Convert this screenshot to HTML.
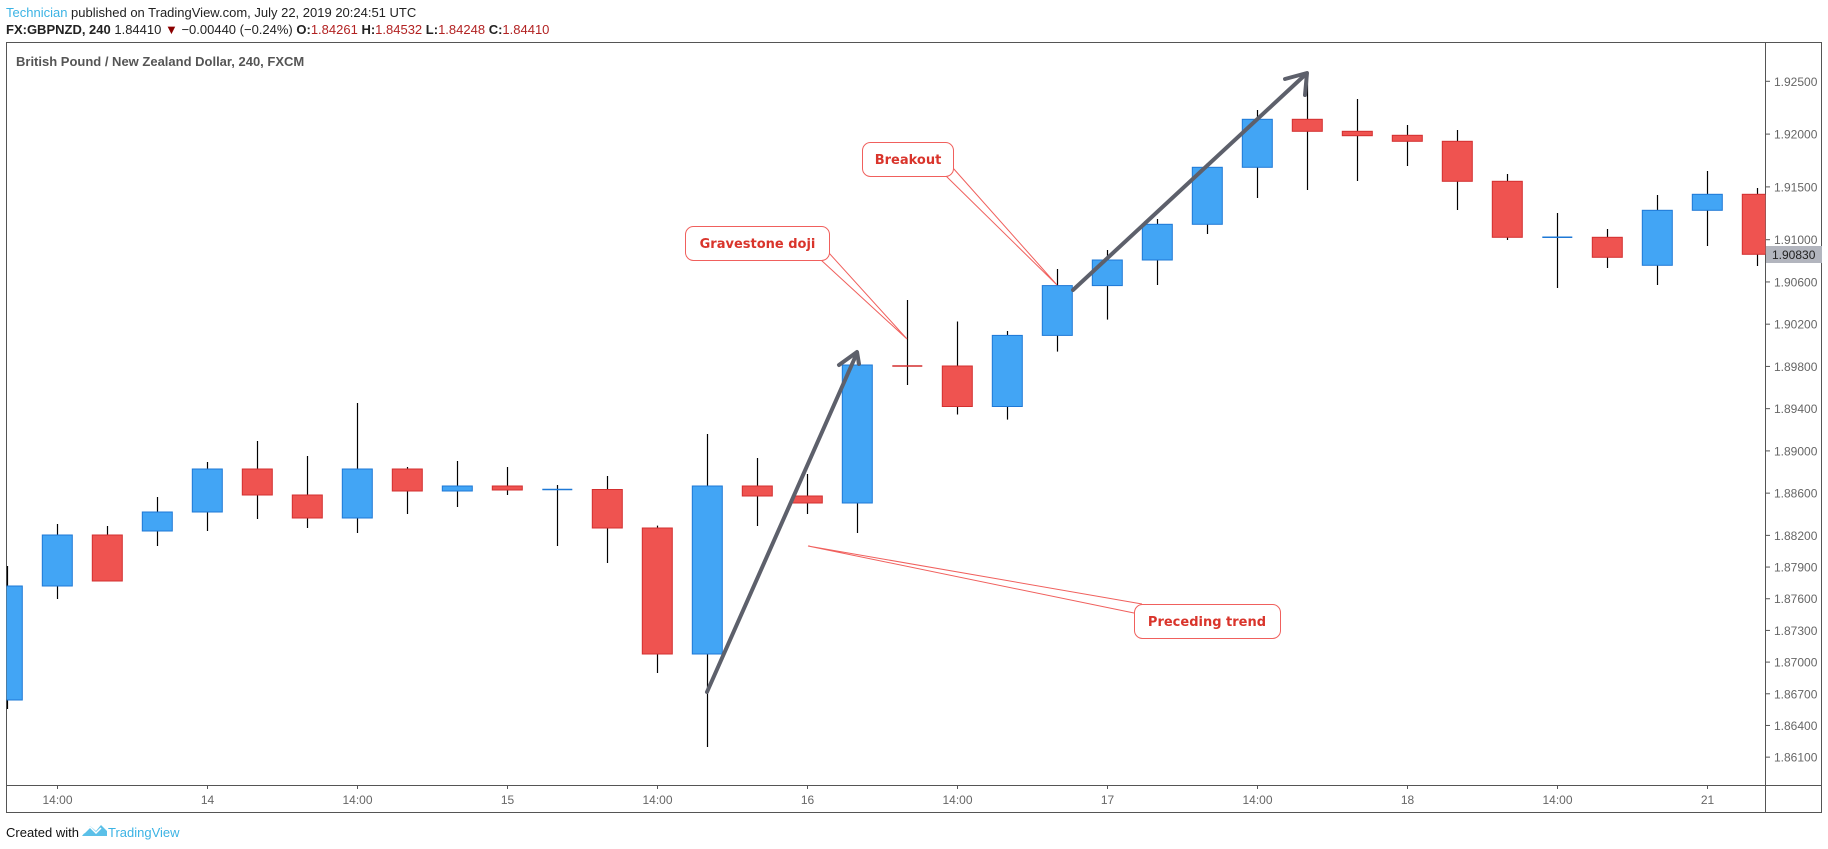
<!DOCTYPE html>
<html><head><meta charset="utf-8">
<style>
html,body{margin:0;padding:0;background:#fff;width:1828px;height:849px;overflow:hidden}
svg{display:block}
.t{font-family:"Liberation Sans",sans-serif}
</style></head>
<body>
<svg id="s" width="1828" height="849" viewBox="0 0 1828 849" xmlns="http://www.w3.org/2000/svg">
<defs><clipPath id="pc"><rect x="6.5" y="42.5" width="1759" height="742"/></clipPath></defs>
<text class="t" x="6" y="17" font-size="13" fill="#3bb3e4">Technician <tspan fill="#222">published on TradingView.com, July 22, 2019 20:24:51 UTC</tspan></text>
<text class="t" x="6" y="34" font-size="13" fill="#222"><tspan font-weight="bold">FX:GBPNZD, 240</tspan> 1.84410 <tspan fill="#8b0000">▼</tspan> −0.00440 (−0.24%) <tspan font-weight="bold">O:</tspan><tspan fill="#b22222">1.84261</tspan> <tspan font-weight="bold">H:</tspan><tspan fill="#b22222">1.84532</tspan> <tspan font-weight="bold">L:</tspan><tspan fill="#b22222">1.84248</tspan> <tspan font-weight="bold">C:</tspan><tspan fill="#b22222">1.84410</tspan></text>
<rect x="6.5" y="42.5" width="1815" height="770" fill="none" stroke="#555" stroke-width="1"/>
<line x1="1765.5" y1="42" x2="1765.5" y2="812" stroke="#555"/>
<line x1="6" y1="785.5" x2="1822" y2="785.5" stroke="#555"/>
<text class="t" x="16" y="66" font-size="13" font-weight="bold" fill="#555">British Pound / New Zealand Dollar, 240, FXCM</text>
<g id="candles" clip-path="url(#pc)"></g>
<g id="axes"></g>
<!-- arrows -->
<g stroke="#5d606b" stroke-width="4" fill="none" stroke-linecap="round" stroke-linejoin="round">
<line x1="707" y1="692" x2="857" y2="353"/>
<polyline points="839,365 857,352 859,364"/>
<line x1="1073" y1="290" x2="1306" y2="74"/>
<polyline points="1285,79 1307,73 1305,95"/>
</g>
<!-- callouts -->
<g stroke="#f0605d" stroke-width="1" fill="none">
<polyline points="821,260 907,339 829,253"/>
<polyline points="946,176 1057,285 953,168"/>
<polyline points="1134,613 808,546 1142,604"/>
</g>
<g stroke="#f0605d" stroke-width="1" fill="#fff">
<rect x="685.5" y="226.5" width="144" height="34" rx="8"/>
<rect x="862.5" y="142.5" width="91" height="34" rx="8"/>
<rect x="1134.5" y="604.5" width="146" height="34" rx="8"/>
</g>
<g font-family="'DejaVu Sans',sans-serif" font-weight="bold" font-size="13" fill="#d9342b" text-anchor="middle">
<text x="757.5" y="248">Gravestone doji</text>
<text x="908" y="164">Breakout</text>
<text x="1207" y="626">Preceding trend</text>
</g>
<rect x="1766" y="246" width="56" height="17" fill="#b2b5be"/>
<text class="t" x="1772" y="259" font-size="12" fill="#222">1.90830</text>
<text class="t" x="6" y="837" font-size="13" fill="#111">Created with</text>
<path d="M82,836 L90,826 L96,831 L101,825 L107,831 L107,836 Z" fill="#5bc0e8"/>
<path d="M84,833 L90,827 L96,833 L101,828" stroke="#fff" stroke-width="1.5" fill="none"/>
<text class="t" x="108" y="837" font-size="13" fill="#3bb3e4">TradingView</text>
</svg>
<script>
var d=[
[566,586,700,709,1],[524,535,586,599,1],[526,535,581,581,0],[497,512,531,546,1],[462,469,512,531,1],
[441,469,495,519,0],[456,495,518,528,0],[403,469,518,533,1],[467,469,491,514,0],[461,486,491,507,1],
[467,486,490,495,0],[485,489.5,489.5,546,1],[476,489.5,528,563,0],[525.6,528,654,673,0],[434,486,654,747,1],
[458,486,496,526,0],[474,496,503,514,0],[360,365,503,533,1],[300,366,366,385,0],[321.5,366,406.5,414.5,0],
[331,335.4,406.5,419.6,1],[269,285.6,335.4,351.6,1],[250,260,285.6,319.6,1],[219,224.3,260,285,1],[163,167.3,224.3,234,1],
[110,119.3,167.3,198,1],[73,119.3,131.3,190,0],[99,131.3,135.7,181,0],[125,135.3,141.3,166,0],[130,141.3,181.3,210,0],
[174,181.3,237.3,240,0],[213,237.3,237.3,288,1],[229,237.3,257.3,268,0],[195,210.3,265.3,285,1],[171,194.3,210.3,246,1],
[188,194.3,254.3,266,0]];
var h='';
d.forEach(function(c,i){var x=7.3+50*i;var xc=Math.round(x)+0.5;
h+='<line x1="'+xc+'" y1="'+c[0]+'" x2="'+xc+'" y2="'+c[3]+'" stroke="#000" stroke-width="1.2"/>';
var f=c[4]?'#42a5f5':'#ef5350',s=c[4]?'#1e78d6':'#d32f2f';
var hh=c[2]-c[1];
if(hh<1.5){h+='<line x1="'+(x-15)+'" y1="'+c[1]+'" x2="'+(x+15)+'" y2="'+c[1]+'" stroke="'+s+'" stroke-width="1.5"/>';}
else h+='<rect x="'+(x-15)+'" y="'+c[1]+'" width="30" height="'+hh+'" fill="'+f+'" stroke="'+s+'" stroke-width="1"/>';});
document.getElementById('candles').innerHTML=h;
var a='';
var ps=['1.92500','1.92000','1.91500','1.91000','1.90600','1.90200','1.89800','1.89400','1.89000','1.88600','1.88200','1.87900','1.87600','1.87300','1.87000','1.86700','1.86400','1.86100'];
ps.forEach(function(p){var y=81.3+(1.925-parseFloat(p))*10560;
a+='<line x1="1766" y1="'+y+'" x2="1770" y2="'+y+'" stroke="#555"/>';
a+='<text x="1774" y="'+(y+4.5)+'" font-size="12" fill="#666" font-family="Liberation Sans,sans-serif">'+p+'</text>';});
var xl=['14:00','14','14:00','15','14:00','16','14:00','17','14:00','18','14:00','21'];
xl.forEach(function(l,k){var x=57.5+150*k;
a+='<line x1="'+x+'" y1="785" x2="'+x+'" y2="789" stroke="#555"/>';
a+='<text x="'+x+'" y="804" text-anchor="middle" font-size="12" fill="#666" font-family="Liberation Sans,sans-serif">'+l+'</text>';});
document.getElementById('axes').innerHTML=a;
</script>
</body></html>
